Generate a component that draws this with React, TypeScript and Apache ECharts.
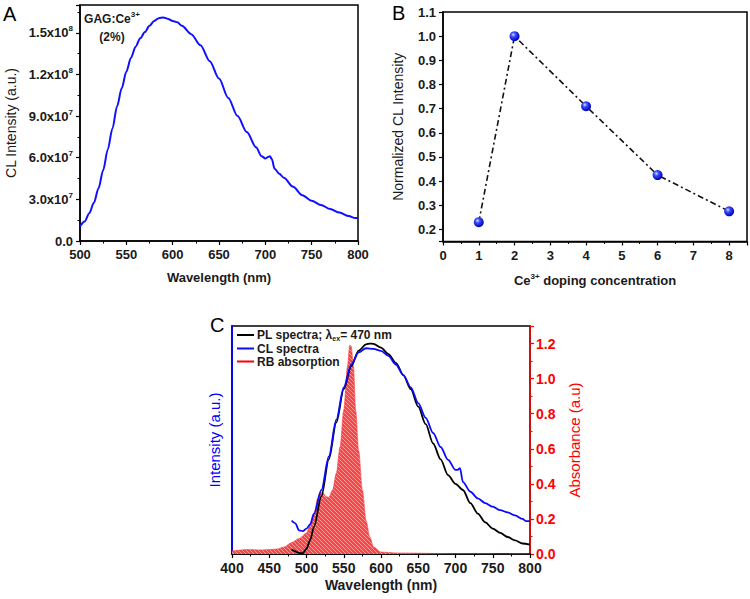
import React, { useEffect, useRef } from 'react';
import * as echarts from 'echarts';

const FONT = '"Liberation Sans", Arial, sans-serif';

// Panel A: CL spectrum of GAG:Ce3+ (2%)
const aWavelength = [500, 505, 510, 515, 520, 525, 530, 535, 540, 545, 550, 555, 560, 565, 570, 575, 580, 585, 590, 595, 600, 605, 610, 620, 630, 640, 650, 660, 670, 680, 690, 696, 700, 703, 705, 707, 710, 715, 720, 730, 740, 750, 760, 770, 780, 790, 797, 800];
const aIntensity = [10.4e6, 14e6, 20e6, 27.5e6, 38e6, 51e6, 66e6, 81e6, 97e6, 110e6, 122e6, 132e6, 140e6, 146e6, 150.5e6, 155e6, 158.5e6, 160.5e6, 161e6, 160e6, 158.5e6, 157.5e6, 155e6, 149e6, 141e6, 129.5e6, 117e6, 103e6, 90e6, 78.5e6, 67.5e6, 61e6, 59.5e6, 60.5e6, 61e6, 59e6, 52e6, 48.5e6, 45.5e6, 39e6, 33e6, 29e6, 26e6, 23e6, 20.5e6, 18e6, 16.5e6, 16.5e6];

// Panel B: normalized CL intensity vs Ce3+ doping concentration
const bConcentration = [1, 2, 4, 6, 8];
const bNormalized = [0.23, 1.0, 0.71, 0.425, 0.275];

// Panel C
const cPlWavelength = [480, 485, 490, 495, 500, 505, 510, 520, 530, 540, 550, 560, 570, 580, 585, 590, 600, 610, 620, 630, 640, 650, 660, 670, 680, 690, 700, 710, 720, 730, 740, 750, 760, 770, 780, 790, 800];
const cPlIntensity = [0.025, 0.015, 0.006, 0.005, 0.03, 0.08, 0.155, 0.33, 0.54, 0.75, 0.94, 1.07, 1.16, 1.195, 1.2, 1.198, 1.177, 1.14, 1.09, 1.02, 0.94, 0.84, 0.74, 0.63, 0.54, 0.45, 0.4, 0.365, 0.29, 0.23, 0.18, 0.145, 0.12, 0.097, 0.078, 0.06, 0.053];
const cClWavelength = [480, 485, 490, 495, 500, 505, 510, 520, 530, 540, 550, 560, 570, 580, 590, 600, 610, 620, 630, 640, 650, 660, 670, 680, 690, 700, 703, 706, 710, 720, 730, 740, 750, 760, 770, 780, 790, 795, 800];
const cClIntensity = [0.19, 0.175, 0.135, 0.13, 0.145, 0.17, 0.23, 0.365, 0.556, 0.766, 0.95, 1.08, 1.15, 1.173, 1.17, 1.158, 1.13, 1.08, 1.02, 0.95, 0.86, 0.776, 0.69, 0.61, 0.537, 0.48, 0.48, 0.49, 0.41, 0.355, 0.317, 0.29, 0.27, 0.25, 0.237, 0.22, 0.2, 0.187, 0.187];
const cAbsWavelength = [400, 420, 440, 460, 470, 480, 490, 500, 505, 510, 515, 518, 522, 526, 530, 535, 540, 545, 550, 555, 558, 560, 563, 566, 570, 575, 580, 585, 590, 600, 620, 700, 800];
const cAbsorbance = [0.017, 0.025, 0.023, 0.028, 0.04, 0.065, 0.088, 0.12, 0.165, 0.23, 0.317, 0.35, 0.35, 0.327, 0.323, 0.365, 0.46, 0.61, 0.82, 1.07, 1.19, 1.185, 1.07, 0.82, 0.59, 0.365, 0.19, 0.097, 0.04, 0.011, 0.006, 0.002, 0.0];

const zip = (xs: number[], ys: number[]) => xs.map((x, i) => [x, ys[i]]);

const TXT = '#1a1a1a';
const supRich = {
  b: { fontFamily: FONT, fontWeight: 'bold', fontSize: 13, color: TXT, lineHeight: 16 },
  s: { fontFamily: FONT, fontWeight: 'bold', fontSize: 8, color: TXT, verticalAlign: 'top', lineHeight: 16 },
};

function makeHatch() {
  const c = document.createElement('canvas');
  c.width = 4;
  c.height = 4;
  const ctx = c.getContext('2d')!;
  ctx.fillStyle = '#f44848';
  ctx.fillRect(0, 0, 4, 4);
  ctx.strokeStyle = '#ff9a9a';
  ctx.lineWidth = 1;
  ctx.beginPath();
  ctx.moveTo(0, 0); ctx.lineTo(4, 4);
  ctx.moveTo(-1, 3); ctx.lineTo(1, 5);
  ctx.moveTo(3, -1); ctx.lineTo(5, 1);
  ctx.stroke();
  return c;
}

const axisCommon = (color: string) => ({
  axisLine: { show: true, onZero: false, lineStyle: { color, width: 1.5 } },
  axisTick: { show: true, inside: false, length: 4, lineStyle: { color, width: 1.2 } },
  minorTick: { show: true, splitNumber: 2, length: 2.5, lineStyle: { color, width: 1 } },
  splitLine: { show: false },
  minorSplitLine: { show: false },
});

export default function App() {
  const ref = useRef<HTMLDivElement>(null);
  useEffect(() => {
    if (!ref.current) return;
    const chart = echarts.init(ref.current, undefined, { renderer: 'svg' });
    const labelStyle = (color: string, size = 13) => ({
      fontFamily: FONT, fontWeight: 'bold' as const, fontSize: size, color,
    });
    const option: any = {
      animation: false,
      backgroundColor: '#fff',
      textStyle: { fontFamily: FONT },
      grid: [
        { left: 80, top: 5, width: 278, height: 236, show: true, borderColor: '#000', borderWidth: 1.5, backgroundColor: 'transparent' },
        { left: 443, top: 12, width: 305, height: 229.5, show: true, borderColor: '#000', borderWidth: 1.5, backgroundColor: 'transparent' },
        { left: 232, top: 326, width: 298, height: 228, show: true, borderColor: '#000', borderWidth: 1.5, backgroundColor: 'transparent' },
      ],
      xAxis: [
        {
          gridIndex: 0, type: 'value', min: 500, max: 800, interval: 50,
          ...axisCommon('#000'),
          axisLabel: { ...labelStyle(TXT), margin: 7 },
          name: 'Wavelength (nm)', nameLocation: 'middle', nameGap: 30,
          nameTextStyle: { ...labelStyle(TXT, 13) },
        },
        {
          gridIndex: 1, type: 'value', min: 0, max: 8.5, interval: 1,
          ...axisCommon('#000'),
          axisLabel: { ...labelStyle(TXT), margin: 7, formatter: (v: number) => (Number.isInteger(v) ? String(v) : '') },
          name: '{b|Ce}{s|3+}{b| doping concentration}', nameLocation: 'middle', nameGap: 31,
          nameTextStyle: { ...labelStyle(TXT, 13), rich: supRich },
        },
        {
          gridIndex: 2, type: 'value', min: 400, max: 800, interval: 50,
          ...axisCommon('#000'),
          axisLabel: { ...labelStyle(TXT, 14), margin: 7 },
          name: 'Wavelength (nm)', nameLocation: 'middle', nameGap: 24,
          nameTextStyle: { ...labelStyle(TXT, 14) },
        },
      ],
      yAxis: [
        {
          gridIndex: 0, type: 'value', min: 0, max: 1.7e8, interval: 3e7,
          ...axisCommon('#000'),
          axisLabel: {
            margin: 7,
            formatter: (v: number) => {
              if (v === 0) return '{b|0.0}';
              if (v > 1.6e8) return '';
              const e = Math.floor(Math.log10(v) + 1e-9);
              const m = (v / Math.pow(10, e)).toFixed(1);
              return `{b|${m}x10}{s|${e}}`;
            },
            rich: supRich,
          },
          name: 'CL Intensity (a.u.)', nameLocation: 'middle', nameGap: 62,
          nameTextStyle: { fontFamily: FONT, fontSize: 14, color: TXT },
        },
        {
          gridIndex: 1, type: 'value', min: 0.15, max: 1.1, minInterval: 0.1, maxInterval: 0.1, splitNumber: 10,
          ...axisCommon('#000'),
          minorTick: { show: false },
          axisLabel: {
            ...labelStyle(TXT), margin: 7,
            formatter: (v: number) => (Math.abs(v * 10 - Math.round(v * 10)) < 1e-6 ? v.toFixed(1) : ''),
          },
          name: 'Normalized CL Intensity', nameLocation: 'middle', nameGap: 38,
          nameTextStyle: { fontFamily: FONT, fontSize: 14, color: TXT },
        },
        {
          gridIndex: 2, type: 'value', min: 0, max: 1.3, position: 'left',
          axisLine: { show: true, onZero: false, lineStyle: { color: '#0000ff', width: 1.8 } },
          axisTick: { show: false },
          axisLabel: { show: false },
          splitLine: { show: false },
          name: 'Intensity (a.u.)', nameLocation: 'middle', nameGap: 10,
          nameTextStyle: { fontFamily: FONT, fontSize: 15, color: '#0000ff' },
        },
        {
          gridIndex: 2, type: 'value', min: 0, max: 1.3, interval: 0.2, position: 'right',
          ...axisCommon('#ff0000'),
          axisLabel: {
            ...labelStyle('#ff0000', 14), margin: 6,
            formatter: (v: number) => (v > 1.25 ? '' : v.toFixed(1)),
          },
          name: 'Absorbance (a.u)', nameLocation: 'middle', nameGap: 37,
          nameTextStyle: { fontFamily: FONT, fontSize: 15, color: '#ff0000' },
        },
      ],
      legend: {
        orient: 'vertical', left: 236, top: 329, itemGap: 1, itemWidth: 17, itemHeight: 12,
        padding: 0,
        data: [
          { name: 'PL', itemStyle: { opacity: 0 } },
          { name: 'CL', itemStyle: { opacity: 0 } },
          { name: 'RB', itemStyle: { opacity: 0 }, lineStyle: { color: '#ff0000', width: 2 } },
        ],
        formatter: (n: string) => {
          if (n === 'PL') return '{b|PL spectra; λ}{sub|ex}{b|= 470 nm}';
          if (n === 'CL') return '{b|CL spectra}';
          return '{b|RB absorption}';
        },
        textStyle: {
          padding: [0, 0, 0, -2],
          rich: {
            b: { fontFamily: FONT, fontWeight: 'bold', fontSize: 12, color: TXT, lineHeight: 13 },
            sub: { fontFamily: FONT, fontWeight: 'bold', fontSize: 7, color: TXT, verticalAlign: 'bottom', lineHeight: 13 },
          },
        },
      },
      series: [
        {
          type: 'line', xAxisIndex: 0, yAxisIndex: 0, data: zip(aWavelength, aIntensity),
          symbol: 'none', smooth: 0.3, smoothMonotone: 'x',
          lineStyle: { color: '#1010ff', width: 2 },
        },
        {
          type: 'line', xAxisIndex: 1, yAxisIndex: 1, data: zip(bConcentration, bNormalized),
          symbol: 'circle', symbolSize: 10,
          lineStyle: { color: '#111', width: 1.6, type: [6, 3, 2, 3] },
          itemStyle: {
            color: new echarts.graphic.RadialGradient(0.38, 0.35, 0.65, [
              { offset: 0, color: '#d8dcff' },
              { offset: 0.35, color: '#3a4cff' },
              { offset: 1, color: '#0000b0' },
            ]),
            borderWidth: 0,
          },
        },
        {
          name: 'RB', type: 'line', xAxisIndex: 2, yAxisIndex: 3, data: zip(cAbsWavelength, cAbsorbance),
          symbol: 'none', smooth: 0.3, smoothMonotone: 'x',
          lineStyle: { color: '#ff3a3a', width: 0.6 },
          areaStyle: { color: { image: makeHatch(), repeat: 'repeat' }, opacity: 1 },
          z: 1,
        },
        {
          name: 'PL', type: 'line', xAxisIndex: 2, yAxisIndex: 2, data: zip(cPlWavelength, cPlIntensity),
          symbol: 'none', smooth: 0.3, smoothMonotone: 'x',
          lineStyle: { color: '#000', width: 1.8 }, itemStyle: { color: '#000' },
          z: 3,
        },
        {
          name: 'CL', type: 'line', xAxisIndex: 2, yAxisIndex: 2, data: zip(cClWavelength, cClIntensity),
          symbol: 'none', smooth: 0.3, smoothMonotone: 'x',
          lineStyle: { color: '#0a0aff', width: 1.8 }, itemStyle: { color: '#0a0aff' },
          z: 4,
        },
      ],
      graphic: [
        { type: 'text', left: 3, top: 4, style: { text: 'A', font: `20px ${FONT}`, fill: '#000' } },
        { type: 'text', left: 392, top: 3, style: { text: 'B', font: `20px ${FONT}`, fill: '#000' } },
        { type: 'text', left: 210, top: 315, style: { text: 'C', font: `20px ${FONT}`, fill: '#000' } },
        {
          type: 'text', x: 112, y: 10, z: 10,
          style: {
            text: '{b|GAG:Ce}{s|3+}\n{b|(2%)}',
            align: 'center',
            rich: {
              b: { fontFamily: FONT, fontWeight: 'bold', fontSize: 12, fill: TXT, lineHeight: 18 },
              s: { fontFamily: FONT, fontWeight: 'bold', fontSize: 8, fill: TXT, verticalAlign: 'top', lineHeight: 18 },
            },
          },
        },
      ],
    };
    chart.setOption(option);
    return () => chart.dispose();
  }, []);
  return <div ref={ref} style={{ position: 'fixed', left: 0, top: 0, width: 750, height: 599 }} />;
}
